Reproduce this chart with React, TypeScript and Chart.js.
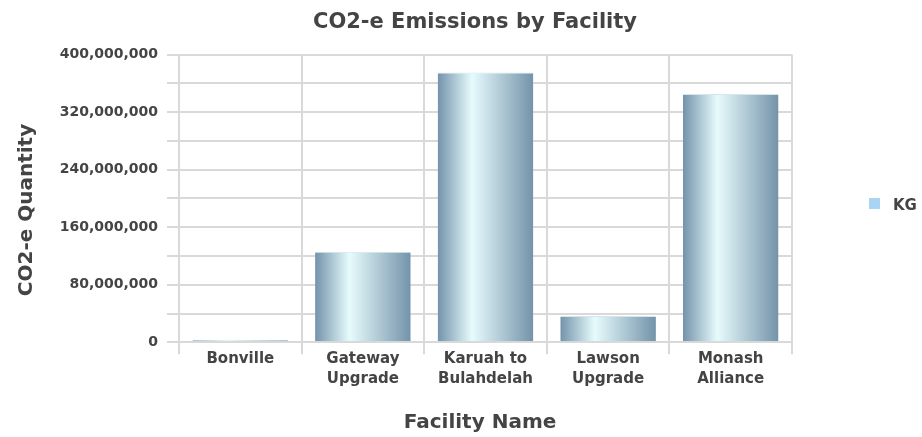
import React, { useEffect, useRef } from "react";
import { Chart, registerables } from "chart.js";

Chart.register(...registerables);

const CATEGORIES: string[][] = [
  ["Bonville"],
  ["Gateway", "Upgrade"],
  ["Karuah to", "Bulahdelah"],
  ["Lawson", "Upgrade"],
  ["Monash", "Alliance"],
];
const KG_VALUES: number[] = [3500000, 126000000, 375000000, 36600000, 345000000];
const Y_LABELED_TICKS: number[] = [0, 80000000, 160000000, 240000000, 320000000, 400000000];
const SERIES_NAME = "KG";
const TITLE = "CO2-e Emissions by Facility";
const X_TITLE = "Facility Name";
const Y_TITLE = "CO2-e Quantity";

const FONT = "'DejaVu Sans', sans-serif";
const TEXT = "#444444";
const GRID = "#d9d9d9";

export default function App() {
  const ref = useRef<HTMLCanvasElement | null>(null);

  useEffect(() => {
    document.body.style.margin = "0";
    const canvas = ref.current!;
    const barPct = 0.78;

    const textPlugin = {
      id: "texts",
      afterDraw(chart: any) {
        const ctx = chart.ctx as CanvasRenderingContext2D;
        ctx.save();
        ctx.fillStyle = TEXT;
        ctx.textBaseline = "alphabetic";
        // title
        ctx.font = `bold 21px ${FONT}`;
        ctx.textAlign = "center";
        ctx.fillText(TITLE, 475, 28);
        // x title
        ctx.font = `bold 20px ${FONT}`;
        ctx.fillText(X_TITLE, 480, 428);
        // y title
        ctx.save();
        ctx.translate(31.5, 210);
        ctx.rotate(-Math.PI / 2);
        ctx.fillText(Y_TITLE, 0, 0);
        ctx.restore();
        // legend
        ctx.fillStyle = "#a9d4f3";
        ctx.fillRect(869, 198, 11, 11);
        ctx.fillStyle = TEXT;
        ctx.font = `bold 15px ${FONT}`;
        ctx.textAlign = "left";
        ctx.fillText(SERIES_NAME, 893, 210);
        ctx.restore();
      },
    };

    const chart = new Chart(canvas, {
      type: "bar",
      data: {
        labels: CATEGORIES,
        datasets: [
          {
            label: SERIES_NAME,
            data: KG_VALUES,
            barPercentage: barPct,
            categoryPercentage: 1,
            borderWidth: { top: 1, left: 0, right: 0, bottom: 0 },
            borderColor: "#d4e6ec",
            borderSkipped: "bottom",
            backgroundColor: (c: any) => {
              const ch = c.chart;
              if (!ch.chartArea || c.type !== "data") return "#a8c3d0";
              const xs = ch.scales.x;
              const center = xs.getPixelForValue(c.dataIndex);
              const w = (xs.width / CATEGORIES.length) * barPct;
              const g = ch.ctx.createLinearGradient(center - w / 2, 0, center + w / 2, 0);
              g.addColorStop(0, "#7393ab");
              g.addColorStop(0.36, "#e6fbfc");
              g.addColorStop(1, "#7493aa");
              return g;
            },
          },
        ],
      },
      options: {
        animation: false,
        responsive: false,
        maintainAspectRatio: false,
        layout: { padding: { top: 54.5, right: 130, left: 0, bottom: 0 } },
        plugins: {
          legend: { display: false },
          title: { display: false },
          tooltip: { enabled: false },
        },
        scales: {
          x: {
            grid: {
              offset: true,
              color: GRID,
              lineWidth: 2,
              drawTicks: true,
              tickLength: 12,
            },
            border: { display: true, color: GRID, width: 2 },
            ticks: {
              color: TEXT,
              font: { family: FONT, weight: "bold", size: 15, lineHeight: 1.33 },
              padding: -5,
              maxRotation: 0,
              autoSkip: false,
            },
            afterFit: (s: any) => {
              s.height = 94.7;
            },
          },
          y: {
            min: 0,
            max: 400000000,
            grid: {
              color: GRID,
              lineWidth: 2,
              drawTicks: true,
              tickLength: 12,
            },
            border: { display: true, color: GRID, width: 2 },
            ticks: {
              stepSize: 40000000,
              autoSkip: false,
              color: TEXT,
              padding: 9,
              font: { family: FONT, weight: "bold", size: 14 },
              callback: (v: any) =>
                Y_LABELED_TICKS.includes(Number(v)) ? Number(v).toLocaleString("en-US") : "",
            },
            afterFit: (s: any) => {
              s.width = 179;
            },
          },
        },
      },
      plugins: [textPlugin],
    } as any);

    return () => chart.destroy();
  }, []);

  return (
    <div style={{ width: 922, height: 437 }}>
      <canvas ref={ref} width={922} height={437} style={{ width: 922, height: 437, display: "block" }} />
    </div>
  );
}
